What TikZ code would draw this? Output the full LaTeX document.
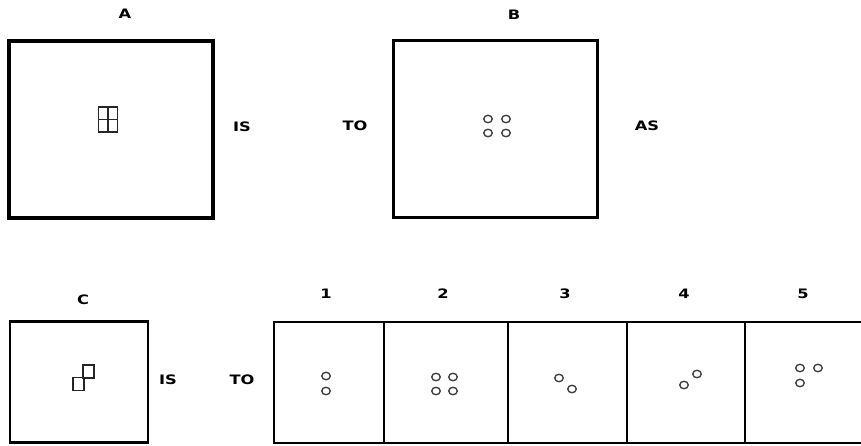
\documentclass[tikz,border=0pt]{standalone}
\usepackage{fontspec}
\setsansfont{DejaVu Sans}
\usetikzlibrary{shapes.geometric, positioning}

\begin{document}
\begin{tikzpicture}[x=1pt, y=-1pt,
    frame/.style={rectangle, draw, line width=3.5pt, inner sep=0pt,
                  minimum width=204pt, minimum height=177pt},
    smallframe/.style={rectangle, draw, line width=2.6pt, inner sep=0pt,
                  minimum height=121pt},
    lbl/.style={font=\sffamily\bfseries\fontsize{13}{15}\selectfont,
                xscale=1.25, inner sep=0pt},
    dot/.style={ellipse, draw=black!75, line width=1.4pt, inner sep=0pt,
                minimum width=8.5pt, minimum height=7.5pt},
    sq/.style={rectangle, draw=black!85, line width=1.2pt, inner sep=0pt}
]
\useasboundingbox (0,0) rectangle (861,446);

% Pair A : B
\node[frame] (boxA) at (111,129.5) {};
\node[lbl] (labA) at (125,14) {A};
\node[lbl] (is1) at (242,127) {IS};
\node[sq, minimum width=19pt, minimum height=25pt] (win) at (108,119.5) {};
\draw[black!85, line width=1.2pt] (win.north) -- (win.south);
\draw[black!85, line width=1.2pt] (win.west) -- (win.east);

\node[lbl] (to1) at (355,126) {TO};
\node[frame] (boxB) at (495.5,129) {};
\node[lbl] (labB) at (514,15) {B};
\node[lbl] (as) at (647,126) {AS};
\node[dot] (b1) at (488,119) {};
\node[dot] (b2) at (506,119) {};
\node[dot] (b3) at (488,133) {};
\node[dot] (b4) at (506,133) {};

% Pair C : ?
\node[smallframe, minimum width=138pt] (boxC) at (79,382) {};
\node[lbl] (labC) at (83,300) {C};
\node[lbl] (is2) at (168,380) {IS};
\node[lbl] (to2) at (242,380) {TO};
\node[sq, minimum width=11pt, minimum height=13pt] (c1) at (78.5,384) {};
\node[sq, minimum width=11pt, minimum height=13pt] (c2) at (88.5,371.5) {};

% Answer options
\node[smallframe, minimum width=110pt] (opt1) at (329,382.5) {};
\node[smallframe, minimum width=124pt] (opt2) at (446,382.5) {};
\node[smallframe, minimum width=119pt] (opt3) at (567.5,382.5) {};
\node[smallframe, minimum width=118pt] (opt4) at (686,382.5) {};
\node[smallframe, minimum width=125pt] (opt5) at (807.5,382.5) {};

\node[lbl] (n1) at (326,294) {1};
\node[lbl] (n2) at (443,294) {2};
\node[lbl] (n3) at (565,294) {3};
\node[lbl] (n4) at (684,294) {4};
\node[lbl] (n5) at (803,294) {5};

% option 1
\node[dot] (o1a) at (326,376) {};
\node[dot] (o1b) at (326,391) {};
% option 2
\node[dot] (o2a) at (436,377) {};
\node[dot] (o2b) at (453,377) {};
\node[dot] (o2c) at (436,391) {};
\node[dot] (o2d) at (453,391) {};
% option 3
\node[dot] (o3a) at (559,378) {};
\node[dot] (o3b) at (572,389) {};
% option 4
\node[dot] (o4a) at (684,385) {};
\node[dot] (o4b) at (697,374) {};
% option 5
\node[dot] (o5a) at (800,368) {};
\node[dot] (o5b) at (818,368) {};
\node[dot] (o5c) at (800,383) {};
\end{tikzpicture}
\end{document}
